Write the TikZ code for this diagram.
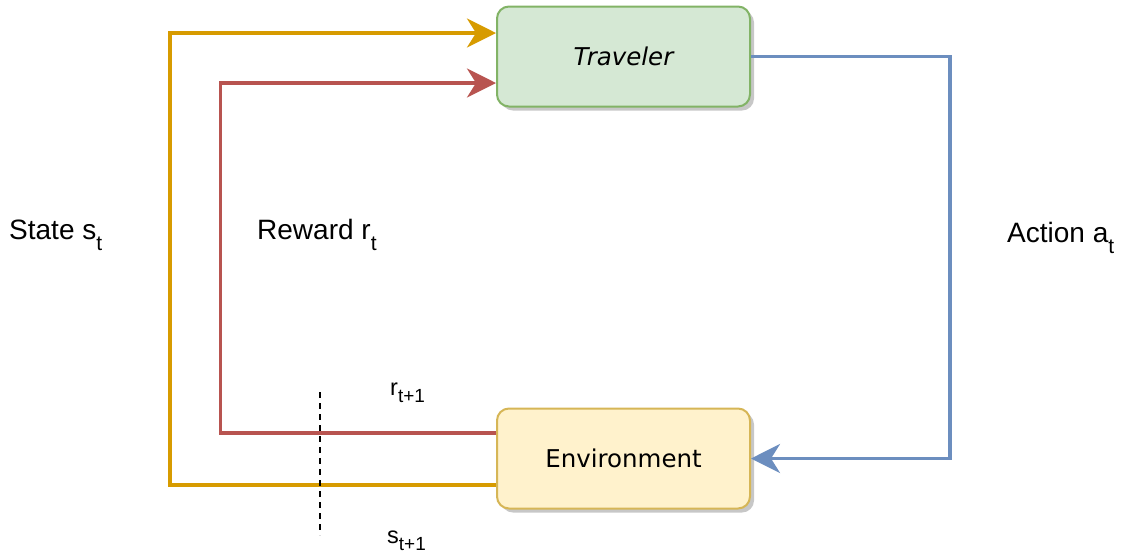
\documentclass[tikz,border=0pt]{standalone}
\usepackage{fontspec}
\setmainfont{Liberation Sans}
\newfontfamily\boxfont{DejaVu Sans}
\usetikzlibrary{arrows.meta,shadows,calc}
\definecolor{orng}{HTML}{D79B00}
\definecolor{rdd}{HTML}{B85450}
\definecolor{blu}{HTML}{6C8EBF}
\definecolor{grnfill}{HTML}{D5E8D4}
\definecolor{grnline}{HTML}{82B366}
\definecolor{ylwfill}{HTML}{FFF2CC}
\definecolor{ylwline}{HTML}{D6B656}
\newcommand\bsub[1]{\raisebox{-11pt}{\fontsize{21}{21}\selectfont #1}}
\newcommand\ssub[1]{\raisebox{-7pt}{\fontsize{19}{19}\selectfont #1}}
\tikzset{
  box/.style={draw, line width=2pt, rounded corners=12pt, minimum width=253pt, minimum height=100pt,
    inner sep=0pt, font=\boxfont\fontsize{24.5}{28}\selectfont,
    drop shadow={shadow xshift=4pt, shadow yshift=-4pt, opacity=0.55, fill=gray!80}},
  conn/.style={line width=3.5pt, -{Stealth[length=29pt, width=29pt, inset=9pt]}},
  biglbl/.style={anchor=base west, inner sep=0pt, font=\fontsize{28}{32}\selectfont},
  smlbl/.style={anchor=base west, inner sep=0pt, font=\fontsize{23.5}{28}\selectfont},
}
\begin{document}
\begin{tikzpicture}[x=1pt, y=-1pt]
\useasboundingbox (0,0) rectangle (1130,558);
\node[box, fill=grnfill, draw=grnline] (trav) at (623.5,56.5) {\itshape Traveler};
\node[box, fill=ylwfill, draw=ylwline] (env) at (623.5,458.5) {\raisebox{-5pt}{Environment}};
% state loop (orange)
\coordinate (o1) at (170,485);
\coordinate (o2) at (170,33);
\draw[conn, draw=orng, color=orng] ($(env.west)+(0,26.5)$) -- (o1) -- (o2) -- ($(trav.west)+(0,-23.5)$);
% reward loop (red)
\coordinate (r1) at (220.5,433);
\coordinate (r2) at (220.5,83);
\draw[conn, draw=rdd, color=rdd] ($(env.west)+(0,-25.5)$) -- (r1) -- (r2) -- ($(trav.west)+(0,26.5)$);
% action (blue)
\coordinate (bx) at (950,0);
\draw[conn, draw=blu, color=blu] (trav.east) -- (trav.east -| bx) -- (env.east -| bx) -- (env.east);
% dashed cut
\coordinate (d1) at (320,392);
\coordinate (d2) at (320,535);
\draw[line width=2pt, dash pattern=on 6pt off 5pt] (d1) -- (d2);
% labels
\node[biglbl] (ls) at (9,239) {State s\bsub{t}};
\node[biglbl] (lr) at (257,239) {Reward r\bsub{t}};
\node[biglbl] (la) at (1007,242) {Action a\bsub{t}};
\node[smlbl] (lr1) at (390,395) {r\ssub{t+1}};
\node[smlbl] (ls1) at (387,543) {s\ssub{t+1}};
\end{tikzpicture}
\end{document}
